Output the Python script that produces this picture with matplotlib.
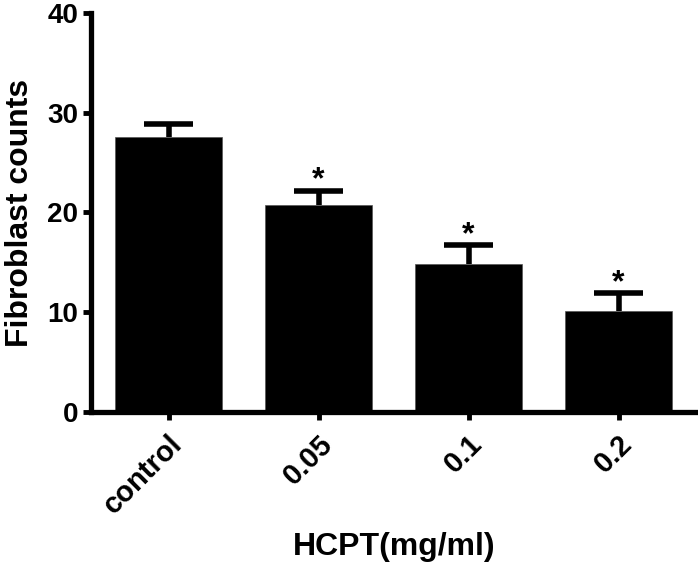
import numpy as np
import matplotlib.pyplot as plt
from matplotlib import font_manager as fm

# regular (not narrow) Liberation Sans Bold, close to Arial Bold
bold_path = None
for f in fm.findSystemFonts():
    if f.endswith('LiberationSans-Bold.ttf'):
        bold_path = f
        break
if bold_path:
    fp = lambda size: fm.FontProperties(fname=bold_path, size=size)
else:
    fp = lambda size: fm.FontProperties(family='DejaVu Sans', weight='bold', size=size)

# data
groups = ['control', '0.05', '0.1', '0.2']
means = [27.6, 20.8, 14.8, 10.1]
sem = [1.3, 1.4, 1.9, 1.8]
signif = ['', '*', '*', '*']

x = np.arange(len(groups))

fig = plt.figure(figsize=(6.98, 5.65), dpi=100)
ax = fig.add_axes([91/698, 1-412/565, (695-91)/698, (412-13)/565])

ax.bar(x, means, width=0.71, color='black', edgecolor='#555555', linewidth=0.5, zorder=2)
# upper error bars only
tops = np.array(means) + np.array(sem)
ax.vlines(x, means, tops, color='black', linewidth=4, zorder=1)
ax.hlines(tops, x - 0.165, x + 0.165, color='black', linewidth=4, zorder=1)

for xi, t_y, t in zip(x, tops, signif):
    if t:
        ax.text(xi, t_y + 0.2, t, ha='center', va='baseline', fontproperties=fp(23))

ax.set_xlim(-0.517, 3.51)
ax.set_ylim(0, 40)
ax.set_yticks([0, 10, 20, 30, 40])
ax.set_xticks(x)
ax.set_xticklabels(groups, rotation=45, ha='right', rotation_mode='anchor')
for lab in ax.get_yticklabels():
    lab.set_fontproperties(fp(20))
for lab in ax.get_xticklabels():
    lab.set_fontproperties(fp(21))

for side in ['top', 'right']:
    ax.spines[side].set_visible(False)
for side in ['left', 'bottom']:
    ax.spines[side].set_linewidth(3.8)
ax.tick_params(width=3.5, length=6)
ax.tick_params(axis='x', pad=7)
ax.tick_params(axis='y', pad=3)

ax.set_ylabel('Fibroblast counts', fontproperties=fp(23), labelpad=9)
fig.text(394.5/698, 1-555/565, 'HCPT(mg/ml)', ha='center', va='baseline', fontproperties=fp(23))

fig.savefig('out.png', dpi=100)
